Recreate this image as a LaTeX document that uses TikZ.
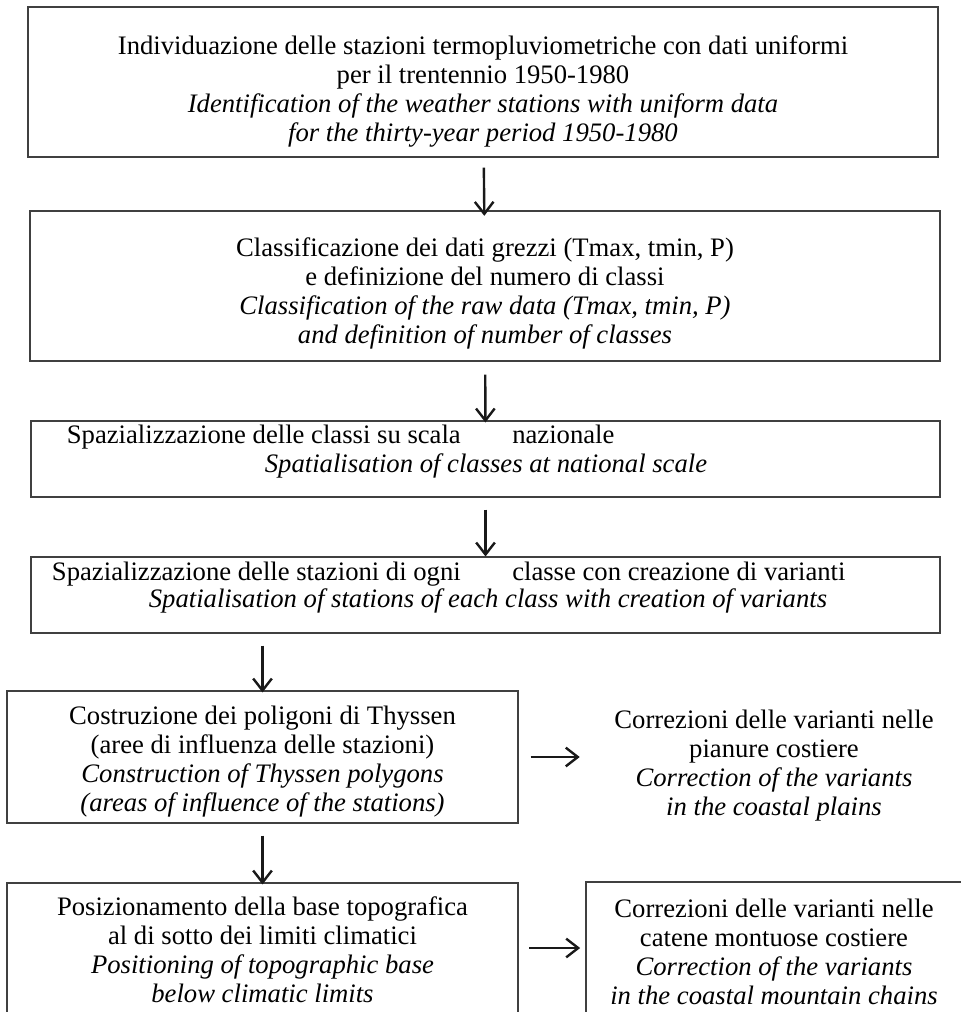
\documentclass[tikz,border=0pt]{standalone}
\usepackage{fontspec}
\setmainfont{Liberation Serif}
\usetikzlibrary{arrows.meta}

\tikzset{
  stepbox/.style={draw=black!75, line width=0.8pt, inner sep=0pt},
  plaintext/.style={align=center, inner sep=0pt},
  flow/.style={-{Straight Barb[length=9pt,width=14pt]}, line width=1.8pt, black!90},
}

\begin{document}
\begin{tikzpicture}[x=0.75pt,y=0.75pt,yscale=-1,xscale=1,font=\fontsize{20}{21.75}\selectfont]
\useasboundingbox (0,0) rectangle (960,1012);
%Shape: Rectangle [box 1]
\node[stepbox, minimum width=682.5pt, minimum height=112.5pt] (ident) at (483,82) {};
%Shape: Rectangle [box 2]
\node[stepbox, minimum width=682.5pt, minimum height=112.5pt] (classif) at (485,286) {};
%Shape: Rectangle [box 3]
\node[stepbox, minimum width=681.75pt, minimum height=57pt] (spazclas) at (485.5,459) {};
%Shape: Rectangle [box 4]
\node[stepbox, minimum width=681.75pt, minimum height=57pt] (spazstaz) at (485.5,595) {};
%Shape: Rectangle [box 5]
\node[stepbox, minimum width=383.25pt, minimum height=99pt] (thyss) at (262.5,757) {};
%Shape: Rectangle [box 6]
\node[stepbox, minimum width=383.25pt, minimum height=110.25pt] (topo) at (262.5,956.5) {};
%Shape: Rectangle [box 7]
\node[stepbox, minimum width=282pt, minimum height=112.5pt] (corrmont) at (774,957) {};
% Text Node
\node[plaintext] (identtxt) at (483,91) {Individuazione delle stazioni termopluviometriche con dati uniformi\\ per il trentennio 1950-1980\\ {\itshape Identification of the weather stations with uniform data}\\ {\itshape for the thirty-year period 1950-1980}};
% Text Node
\node[plaintext] (classiftxt) at (485,293) {Classificazione dei dati grezzi (Tmax, tmin, P)\\ e definizione del numero di classi\\ {\itshape Classification of the raw data (Tmax, tmin, P)}\\ {\itshape and definition of number of classes}};
% Text Node
\node[plaintext, anchor=base east] (scala) at (461,443) {Spazializzazione delle classi su scala};
\node[plaintext, anchor=base west] (naz) at (512,443) {nazionale};
\node[plaintext, anchor=base] (spazen) at (486,472) {\itshape Spatialisation of classes at national scale};
% Text Node
\node[plaintext, anchor=base east] (ogni) at (461,580) {Spazializzazione delle stazioni di ogni};
\node[plaintext, anchor=base west] (classe) at (512,580) {classe con creazione di varianti};
\node[plaintext, anchor=base] (stazen) at (488,607) {\itshape Spatialisation of stations of each class with creation of variants};
% Text Node
\node[plaintext] (thysstxt) at (262.5,762) {Costruzione dei poligoni di Thyssen\\ (aree di influenza delle stazioni)\\ {\itshape Construction of  Thyssen polygons}\\ {\itshape (areas of influence of the stations)}};
% Text Node
\node[plaintext] (topotxt) at (262.5,950) {Posizionamento della base topografica\\ al di sotto dei limiti climatici\\ {\itshape Positioning of topographic base}\\ {\itshape below climatic limits}};
% Text Node
\node[plaintext, minimum width=282pt] (corrpian) at (774,766) {Correzioni delle varianti nelle\\ pianure costiere\\ {\itshape Correction of the variants}\\ {\itshape in the coastal plains}};
% Text Node
\node[plaintext] (corrmonttxt) at (774,952) {Correzioni delle varianti nelle\\ catene montuose costiere\\ {\itshape Correction of the variants}\\ {\itshape in the coastal mountain chains}};
%Straight Lines
\coordinate (lowarrow) at (0,948);
\draw[flow, shorten <=7.5pt, shorten >=-4pt] (ident) -- (classif);
\draw[flow, shorten <=9.75pt, shorten >=-1.5pt] (classif) -- (spazclas);
\draw[flow, shorten <=9pt] (spazclas) -- (spazstaz);
\draw[flow, shorten <=9pt, shorten >=-1.5pt] (spazstaz.south -| thyss.north) -- (thyss.north);
\draw[flow, shorten <=9pt, shorten >=-1.5pt] (thyss) -- (topo);
\draw[flow, shorten <=9pt, shorten >=4.5pt] (thyss.east) -- (thyss.east -| corrpian.west);
\draw[flow, shorten <=8pt, shorten >=4pt] (topo.east |- lowarrow) -- (corrmont.west |- lowarrow);
\end{tikzpicture}
\end{document}
